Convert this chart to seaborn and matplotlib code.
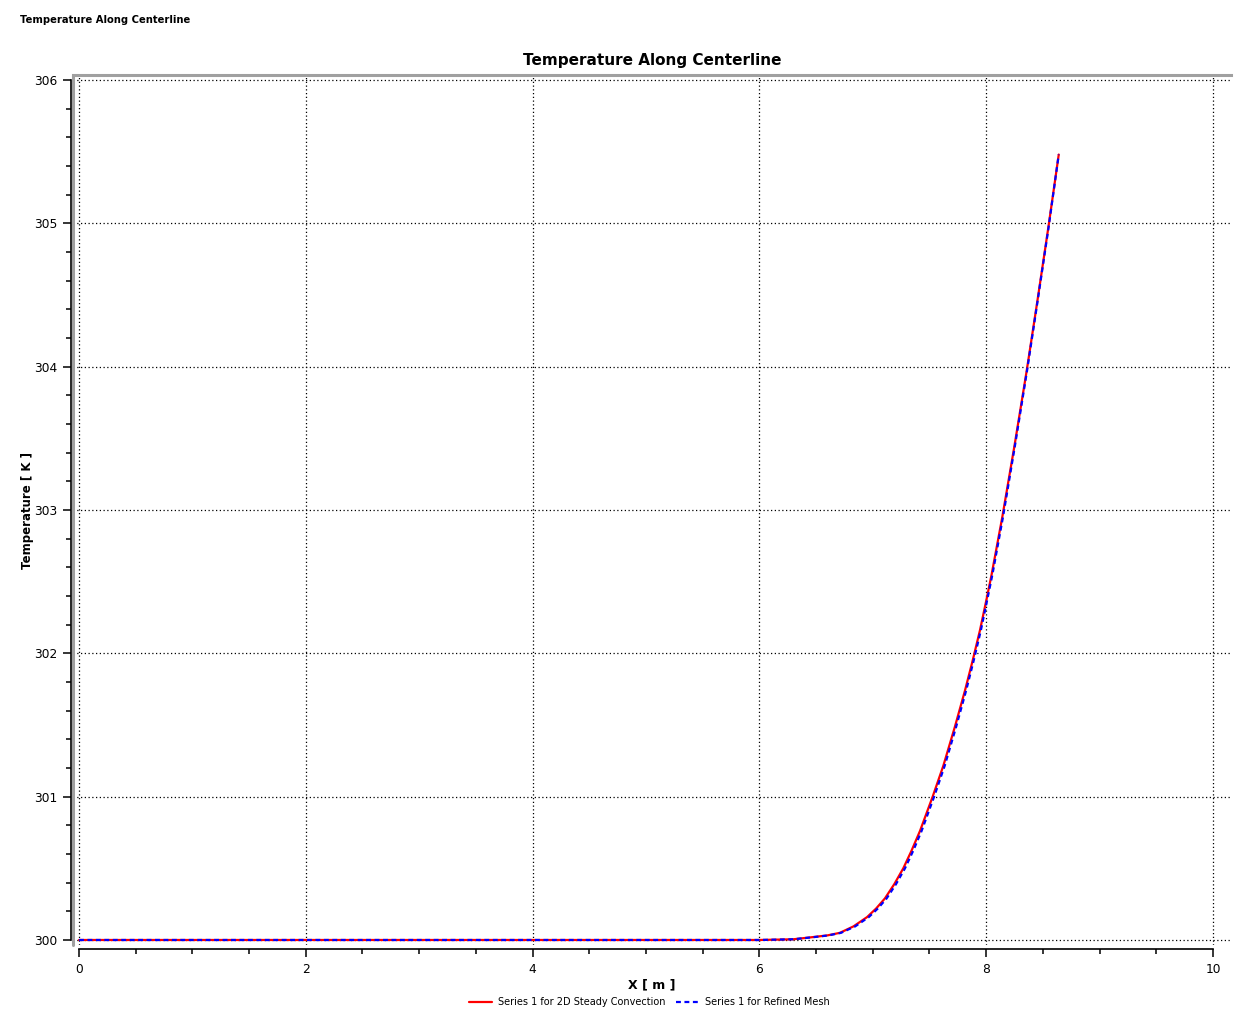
import matplotlib
matplotlib.use("Agg")
import matplotlib.pyplot as plt
from matplotlib.lines import Line2D
from matplotlib.ticker import MultipleLocator
import pandas as pd
import seaborn as sns

# values
x_coarse = [0.0, 6.0, 6.3, 6.47, 6.6, 6.71, 6.83, 6.95, 7.03, 7.107, 7.19, 7.269, 7.34, 7.416,
            7.528, 7.622, 7.725, 7.813, 7.881, 7.945, 8.004, 8.048, 8.142, 8.25, 8.357, 8.45, 8.548, 8.64]
t_coarse = [300.0, 300.0, 300.005, 300.02, 300.032, 300.05, 300.095, 300.16, 300.22, 300.29, 300.39,
            300.50, 300.62, 300.76, 301.0, 301.215, 301.49, 301.74, 301.95, 302.16, 302.38, 302.55,
            302.95, 303.45, 303.97, 304.45, 304.97, 305.48]

x_refined = [0.0, 6.0, 6.3, 6.48, 6.61, 6.72, 6.845, 6.965, 7.045, 7.122, 7.205, 7.284, 7.355, 7.43,
             7.541, 7.634, 7.736, 7.823, 7.89, 7.953, 8.011, 8.055, 8.148, 8.254, 8.36, 8.452, 8.55, 8.64]
t_refined = t_coarse

series_names = ["Series 1 for 2D Steady Convection", "Series 1 for Refined Mesh"]

df = pd.concat([
    pd.DataFrame({"x": x_coarse, "T": t_coarse, "series": series_names[0]}),
    pd.DataFrame({"x": x_refined, "T": t_refined, "series": series_names[1]}),
])

sns.set_style("white")
plt.rcParams["font.family"] = ["DejaVu Sans"]
plt.rcParams["text.color"] = "black"

fig = plt.figure(figsize=(12.51, 10.32), dpi=100)
ax = fig.add_axes([0.05835, 0.0843, 0.92566, 0.84302])

sns.lineplot(data=df, x="x", y="T", hue="series", style="series",
             palette=["#ff0000", "#0000ff"], dashes=[(None, None), (2.2, 1.6)],
             linewidth=1.6, ax=ax, legend=False, sort=False)

ax.set_xlim(-0.053, 10.159)
ax.set_ylim(299.965, 306.035)

ax.xaxis.set_major_locator(MultipleLocator(2))
ax.xaxis.set_minor_locator(MultipleLocator(0.5))
ax.yaxis.set_major_locator(MultipleLocator(1))
ax.yaxis.set_minor_locator(MultipleLocator(0.2))

ax.grid(True, which="major", color="black", linestyle=(0, (1, 2)), linewidth=0.9)

# frame: grey top and left, black axis lines set slightly outside
ax.spines["right"].set_visible(False)
ax.spines["top"].set_color("#a0a0a0")
ax.spines["top"].set_linewidth(2.2)
ax.spines["left"].set_color("black")
ax.spines["left"].set_linewidth(1.2)
ax.spines["left"].set_position(("outward", 1.6))
ax.spines["left"].set_bounds(300, 306)
ax.spines["bottom"].set_color("black")
ax.spines["bottom"].set_linewidth(1.2)
ax.spines["bottom"].set_position(("outward", 3))
ax.spines["bottom"].set_bounds(0, 10)
ax.add_artist(Line2D([0, 0], [0, 1], transform=ax.transAxes, color="#a0a0a0",
                     linewidth=2.2, clip_on=False))

ax.tick_params(axis="both", which="major", direction="out", length=6, width=1.1,
               color="black", labelsize=8.8, labelcolor="black")
ax.tick_params(axis="both", which="minor", direction="out", length=3.5, width=1.1,
               color="black")
ax.tick_params(axis="x", which="major", pad=4)
ax.tick_params(axis="y", which="major", pad=3.5)
ax.tick_params(left=True, bottom=True, which="both")

ax.set_xlabel("X [ m ]", fontsize=9, fontweight="bold", labelpad=2, color="black")
ax.set_ylabel("Temperature [ K ]", fontsize=8.5, fontweight="bold", labelpad=0, color="black")
ax.set_title("Temperature Along Centerline", fontsize=11, fontweight="bold", pad=7, color="black")

fig.text(20 / 1251, 1 - 20 / 1032, "Temperature Along Centerline", fontsize=7.2,
         fontweight="bold", ha="left", va="center", color="black")

handles = [Line2D([], [], color="#ff0000", linewidth=1.6),
           Line2D([], [], color="#0000ff", linewidth=1.6, linestyle=(0, (2.2, 1.6)))]
fig.legend(handles, series_names, loc="center", bbox_to_anchor=(0.519, 1 - 1002 / 1032),
           ncol=2, frameon=False, fontsize=7.0, handlelength=2.4, columnspacing=1.0,
           handletextpad=0.6)

fig.savefig("out.png", dpi=100)
